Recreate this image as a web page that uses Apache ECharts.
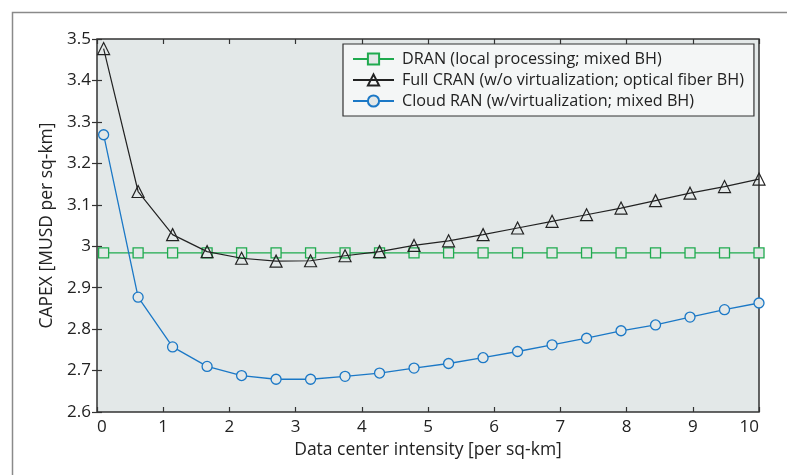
<!DOCTYPE html>
<html>
<head>
<meta charset="utf-8">
<script src="https://cdn.jsdelivr.net/npm/echarts@6/dist/echarts.min.js"></script>
<style>
  html, body { margin: 0; padding: 0; background: #fff; }
  #chart { width: 787px; height: 475px; }
</style>
</head>
<body>
<div id="chart"></div>
<script>
// data center intensity, 20 samples over 0.1..10
var xValues = [0.1, 0.621, 1.142, 1.663, 2.184, 2.705, 3.226, 3.747, 4.268, 4.789,
               5.311, 5.832, 6.353, 6.874, 7.395, 7.916, 8.437, 8.958, 9.479, 10];
var dran = [2.984, 2.984, 2.984, 2.984, 2.984, 2.984, 2.984, 2.984, 2.984, 2.984,
            2.984, 2.984, 2.984, 2.984, 2.984, 2.984, 2.984, 2.984, 2.984, 2.984];
var fullCran = [3.477, 3.132, 3.028, 2.987, 2.971, 2.964, 2.965, 2.977, 2.987, 3.002,
                3.013, 3.028, 3.044, 3.060, 3.076, 3.092, 3.110, 3.128, 3.144, 3.162];
var cloudRan = [3.269, 2.877, 2.757, 2.710, 2.688, 2.679, 2.679, 2.686, 2.694, 2.706,
                2.717, 2.731, 2.746, 2.762, 2.778, 2.796, 2.810, 2.829, 2.847, 2.863];
var seriesNames = ['DRAN (local processing; mixed BH)',
                   'Full CRAN (w/o virtualization; optical fiber BH)',
                   'Cloud RAN (w/virtualization; mixed BH)'];

function pairs(ys) {
    return xValues.map(function (x, i) { return [x, ys[i]]; });
}

var font = '"Open Sans", sans-serif';
var tickStyle = { inside: true, length: 5, lineStyle: { color: '#333', width: 1.2 } };
var myChart = echarts.init(document.getElementById('chart'));
var option = {
    animation: false,
    textStyle: { fontFamily: font },
    graphic: [
        {
            type: 'rect',
            left: 10, top: 10,
            shape: { width: 900, height: 600 },
            style: { fill: 'none', stroke: '#8a8a8a', lineWidth: 1.5 },
            silent: true
        }
    ],
    grid: {
        left: 97, right: 28, top: 39, bottom: 63,
        show: true,
        backgroundColor: '#e3e8e8',
        borderColor: '#333',
        borderWidth: 1.5
    },
    legend: {
        orient: 'vertical',
        left: 343, top: 44,
        itemWidth: 41, itemHeight: 14, itemGap: 5,
        padding: [7, 10, 7, 9],
        backgroundColor: '#f4f6f6',
        borderColor: '#333',
        borderWidth: 1.2,
        borderRadius: 0,
        textStyle: { fontFamily: font, fontSize: 16.2, lineHeight: 16, color: '#222', padding: [0, 0, 0, 3] },
        data: seriesNames
    },
    xAxis: [
        {
            type: 'value', min: 0, max: 10, interval: 1,
            name: 'Data center intensity [per sq-km]',
            nameLocation: 'middle', nameGap: 29,
            nameTextStyle: { fontSize: 17.5, color: '#222', fontFamily: font },
            axisLine: { show: false },
            axisTick: tickStyle,
            axisLabel: { fontSize: 17, color: '#222', margin: 7, fontFamily: font,
                         alignMinLabel: 'left', alignMaxLabel: 'right' },
            splitLine: { show: false }
        },
        {
            type: 'value', min: 0, max: 10, interval: 1, position: 'top',
            axisLine: { show: false },
            axisTick: tickStyle,
            axisLabel: { show: false },
            splitLine: { show: false }
        }
    ],
    yAxis: [
        {
            type: 'value', min: 2.6, max: 3.5, interval: 0.1,
            name: 'CAPEX [MUSD per sq-km]',
            nameLocation: 'middle', nameGap: 41, nameRotate: 90,
            nameTextStyle: { fontSize: 17.5, color: '#222', fontFamily: font },
            axisLine: { show: false },
            axisTick: tickStyle,
            axisLabel: { fontSize: 17, color: '#222', margin: 6, fontFamily: font },
            splitLine: { show: false }
        },
        {
            type: 'value', min: 2.6, max: 3.5, interval: 0.1, position: 'right',
            axisLine: { show: false },
            axisTick: tickStyle,
            axisLabel: { show: false },
            splitLine: { show: false }
        }
    ],
    series: [
        {
            name: seriesNames[0],
            type: 'line',
            data: pairs(dran),
            symbol: 'rect', symbolSize: 10,
            showAllSymbol: true,
            color: '#1faa4e',
            lineStyle: { color: '#1faa4e', width: 1.3 },
            itemStyle: { color: '#e3e8e8', borderColor: '#1faa4e', borderWidth: 1.3 },
            z: 2
        },
        {
            name: seriesNames[1],
            type: 'line',
            data: pairs(fullCran),
            symbol: 'triangle', symbolSize: 12,
            showAllSymbol: true,
            color: '#222',
            lineStyle: { color: '#222', width: 1.2 },
            itemStyle: { color: 'rgba(255,255,255,0)', borderColor: '#222', borderWidth: 1.2 },
            z: 3
        },
        {
            name: seriesNames[2],
            type: 'line',
            data: pairs(cloudRan),
            symbol: 'circle', symbolSize: 10,
            showAllSymbol: true,
            color: '#1b78c6',
            lineStyle: { color: '#1b78c6', width: 1.3 },
            itemStyle: { color: '#e3e8e8', borderColor: '#1b78c6', borderWidth: 1.3 },
            z: 4
        }
    ]
};
myChart.setOption(option);
</script>
</body>
</html>
